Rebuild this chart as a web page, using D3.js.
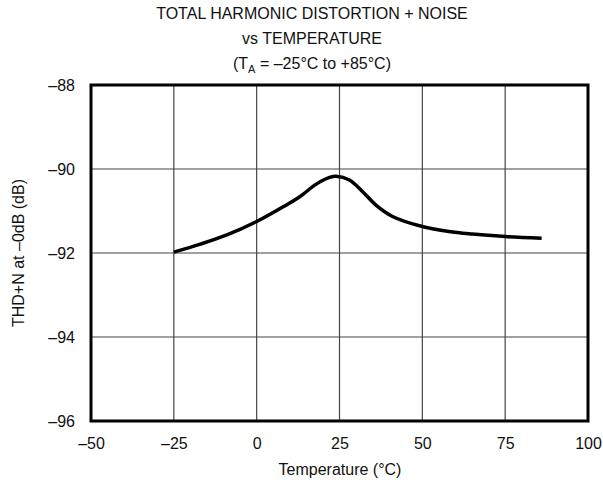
<!DOCTYPE html>
<html><head><meta charset="utf-8">
<script src="https://cdn.jsdelivr.net/npm/d3@7"></script>
<style>body{margin:0;background:#fff}svg{display:block}text{font-family:"Liberation Sans",Arial,sans-serif;fill:#111}</style>
</head><body>
<script>
const temps = [-25,-17,-9,0,8,13,18,22,24,28,32,36,41,50,58,65,75,86];
const thdn  = [-91.98,-91.79,-91.57,-91.25,-90.90,-90.66,-90.36,-90.20,-90.17,-90.26,-90.54,-90.86,-91.13,-91.37,-91.49,-91.55,-91.61,-91.65];
const xTicks = [-50,-25,0,25,50,75,100];
const yTicks = [-96,-94,-92,-90,-88];
const titleLines = ["TOTAL HARMONIC DISTORTION + NOISE","vs TEMPERATURE"];

const W=603,H=487;
const svg=d3.select("body").append("svg").attr("width",W).attr("height",H);
const x=d3.scaleLinear().domain([-50,100]).range([91,588]);
const y=d3.scaleLinear().domain([-96,-88]).range([421,85]);
const fmt=d=>String(d).replace("-","\u2013");
const FS=16;

// grid
svg.append("g").selectAll("line").data(xTicks.slice(1,-1)).join("line")
  .attr("x1",d=>x(d)).attr("x2",d=>x(d)).attr("y1",y(-88)).attr("y2",y(-96))
  .attr("stroke","#444").attr("stroke-width",1.2);
svg.append("g").selectAll("line").data(yTicks.slice(1,-1)).join("line")
  .attr("y1",d=>y(d)).attr("y2",d=>y(d)).attr("x1",x(-50)).attr("x2",x(100))
  .attr("stroke","#444").attr("stroke-width",1.2);

// axes labels
const xa=d3.axisBottom(x).tickValues(xTicks).tickFormat(fmt).tickSize(0).tickPadding(17);
const gx=svg.append("g").attr("transform",`translate(0,${y(-96)})`).call(xa);
gx.select(".domain").remove();
gx.selectAll("text").attr("font-size",FS).style("font-family","Liberation Sans, Arial, sans-serif").attr("fill","#111");
const ya=d3.axisLeft(y).tickValues(yTicks).tickFormat(fmt).tickSize(0).tickPadding(16);
const gy=svg.append("g").attr("transform",`translate(${x(-50)},0)`).call(ya);
gy.select(".domain").remove();
gy.selectAll("text").attr("font-size",FS).style("font-family","Liberation Sans, Arial, sans-serif").attr("fill","#111");

// curve
svg.append("path").datum(temps.map((t,i)=>[t,thdn[i]]))
  .attr("d",d3.line().x(d=>x(d[0])).y(d=>y(d[1])).curve(d3.curveCatmullRom.alpha(0.5)))
  .attr("fill","none").attr("stroke","#000").attr("stroke-width",3.5).attr("stroke-linecap","butt");

// frame
svg.append("rect").attr("x",x(-50)).attr("y",y(-88)).attr("width",x(100)-x(-50)).attr("height",y(-96)-y(-88))
  .attr("fill","none").attr("stroke","#000").attr("stroke-width",3);

// titles
const cx=312;
svg.append("text").attr("x",cx).attr("y",19).attr("text-anchor","middle").attr("font-size",FS).text(titleLines[0]);
svg.append("text").attr("x",cx).attr("y",44).attr("text-anchor","middle").attr("font-size",FS).text(titleLines[1]);
const t3=svg.append("text").attr("x",cx).attr("y",69).attr("text-anchor","middle").attr("font-size",FS);
t3.append("tspan").text("(T");
t3.append("tspan").attr("font-size",11).attr("dy",4).text("A");
t3.append("tspan").attr("dy",-4).text(" = \u201325\u00B0C to +85\u00B0C)");

svg.append("text").attr("x",340).attr("y",475).attr("text-anchor","middle").attr("font-size",FS).text("Temperature (\u00B0C)");
svg.append("text").attr("transform","translate(24,253) rotate(-90)").attr("text-anchor","middle").attr("font-size",FS).text("THD+N at \u20130dB (dB)");
</script>
</body></html>
